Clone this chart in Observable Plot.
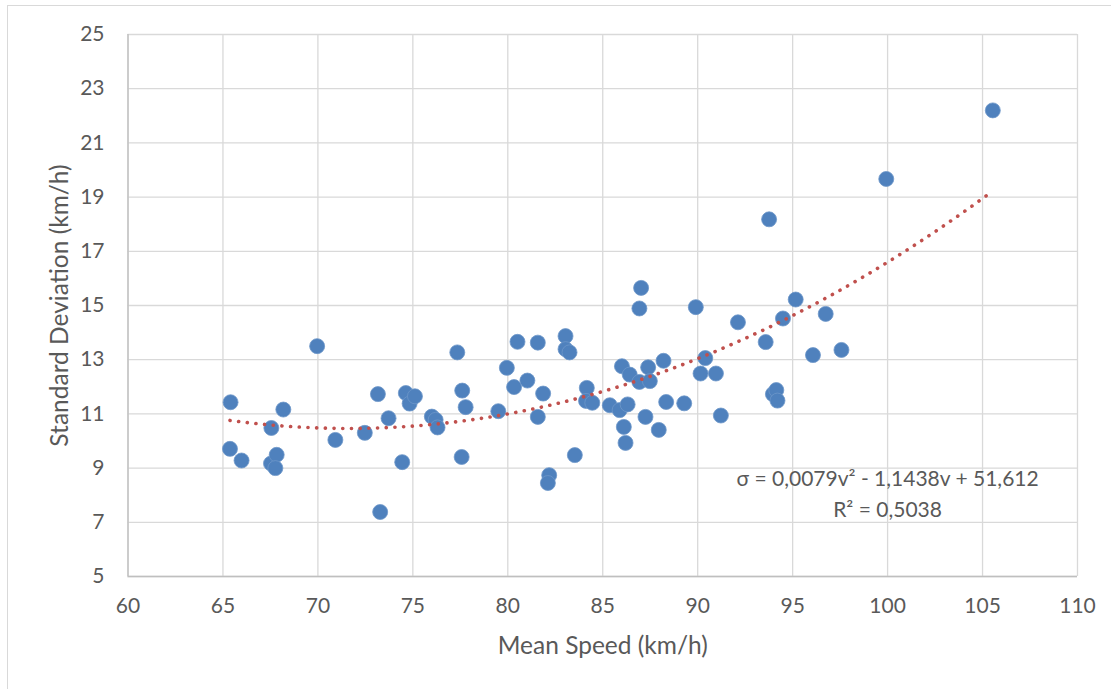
<!DOCTYPE html>
<html>
<head>
<meta charset="utf-8">
<script src="https://cdn.jsdelivr.net/npm/d3@7"></script>
<script src="https://cdn.jsdelivr.net/npm/@observablehq/plot@0.6"></script>
<style>
  html, body { margin: 0; padding: 0; background: #ffffff; overflow: hidden; }
  #wrap { position: relative; width: 1111px; height: 689px; }
  #border { position: absolute; left: 7px; top: 5px; width: 1200px; height: 800px; border: 1.5px solid #d9d9d9; box-sizing: border-box; }
  #chart { position: absolute; left: 0; top: 0; }
</style>
</head>
<body>
<div id="wrap"><div id="border"></div><div id="chart"></div></div>
<script>
// Mean speed (km/h) of each observation
const meanSpeed = [
  65.40, 65.37, 65.98, 67.55, 67.53, 67.83, 67.76, 68.18, 69.96, 70.92,
  72.47, 73.16, 73.28, 73.72, 74.44, 74.63, 74.83, 75.11, 76.00, 76.20,
  76.30, 77.34, 77.60, 77.78, 77.57, 79.50, 79.95, 80.33, 80.51, 81.03,
  81.58, 81.58, 81.86, 82.18, 82.11, 83.04, 83.04, 83.25, 83.53, 84.16,
  84.12, 84.45, 85.37, 85.89, 86.31, 86.01, 86.42, 86.11, 86.20, 86.93,
  87.39, 87.48, 87.25, 87.95, 88.20, 88.34, 87.02, 86.93, 89.90, 92.12,
  93.58, 94.49, 95.16, 96.74, 96.07, 90.40, 90.15, 90.96, 91.22, 89.29,
  93.96, 94.14, 94.20, 99.93, 93.76, 97.57, 105.54
];
// Standard deviation (km/h) of each observation
const stdDev = [
  11.43,  9.71,  9.28, 10.48,  9.17,  9.49,  9.00, 11.16, 13.50, 10.04,
  10.30, 11.73,  7.38, 10.84,  9.22, 11.77, 11.38, 11.65, 10.90, 10.78,
  10.50, 13.27, 11.86, 11.25,  9.41, 11.10, 12.70, 11.99, 13.66, 12.23,
  13.63, 10.89, 11.75,  8.74,  8.45, 13.87, 13.39, 13.27,  9.48, 11.96,
  11.48, 11.41, 11.32, 11.14, 11.35, 12.76, 12.45, 10.52,  9.93, 12.18,
  12.72, 12.21, 10.89, 10.41, 12.96, 11.44, 15.65, 14.89, 14.94, 14.38,
  13.65, 14.52, 15.22, 14.69, 13.17, 13.06, 12.49, 12.49, 10.94, 11.39,
  11.73, 11.88, 11.49, 19.67, 18.18, 13.36, 22.20
];
const xTicks = [60, 65, 70, 75, 80, 85, 90, 95, 100, 105, 110];
const yTicks = [5, 7, 9, 11, 13, 15, 17, 19, 21, 23, 25];
const xTitle = "Mean Speed (km/h)";
const yTitle = "Standard Deviation (km/h)";
const equationLines = ["σ = 0,0079v² - 1,1438v + 51,612", "R² = 0,5038"];

const points = meanSpeed.map((v, i) => ({v, s: stdDev[i]}));

// Second-order polynomial least-squares trendline computed from the data
function quadFit(xs, ys) {
  let S = [0,0,0,0,0], T = [0,0,0];
  xs.forEach((x, i) => {
    let p = 1;
    for (let k = 0; k < 5; k++) { S[k] += p; if (k < 3) T[k] += p * ys[i]; p *= x; }
  });
  const A = [[S[0],S[1],S[2],T[0]],[S[1],S[2],S[3],T[1]],[S[2],S[3],S[4],T[2]]];
  for (let c = 0; c < 3; c++) {
    for (let r = c + 1; r < 3; r++) {
      const f = A[r][c] / A[c][c];
      for (let k = c; k < 4; k++) A[r][k] -= f * A[c][k];
    }
  }
  const coef = [0,0,0];
  for (let r = 2; r >= 0; r--) {
    let s = A[r][3];
    for (let k = r + 1; k < 3; k++) s -= A[r][k] * coef[k];
    coef[r] = s / A[r][r];
  }
  return coef; // c0 + c1 x + c2 x^2
}
const coef = quadFit(meanSpeed, stdDev);
const xmin = d3.min(meanSpeed), xmax = d3.max(meanSpeed);
const trend = d3.range(201).map(i => {
  const v = xmin + (xmax - xmin) * i / 200;
  return {v, s: coef[0] + coef[1] * v + coef[2] * v * v};
});

const grid = "#d9d9d9";
const txt = "#595959";
const font = "Lato, 'Open Sans', sans-serif";

const chart = Plot.plot({
  width: 1111,
  height: 689,
  marginLeft: 127.5,
  marginRight: 34,
  marginTop: 34,
  marginBottom: 113,
  style: {fontFamily: font, color: txt, background: "transparent", overflow: "visible"},
  x: {domain: [60, 110]},
  y: {domain: [5, 25]},
  marks: [
    Plot.gridX(xTicks, {stroke: grid, strokeOpacity: 1, strokeWidth: 1.3}),
    Plot.gridY(yTicks, {stroke: grid, strokeOpacity: 1, strokeWidth: 1.3}),
    Plot.ruleY([5], {stroke: "#bfbfbf", strokeWidth: 1.3}),
    Plot.ruleX([60], {stroke: "#bfbfbf", strokeWidth: 1.3}),
    Plot.axisX(xTicks, {tickSize: 0, tickPadding: 22, fontSize: 21, label: null, fill: txt}),
    Plot.axisY(yTicks, {tickSize: 0, tickPadding: 23.5, fontSize: 21, label: null, fill: txt}),
    Plot.text([xTitle], {frameAnchor: "bottom", lineAnchor: "middle", textAnchor: "middle", dy: 70, fontSize: 24.5, fill: txt}),
    Plot.text([yTitle], {frameAnchor: "left", lineAnchor: "middle", textAnchor: "middle", dx: -68, rotate: -90, fontSize: 24.5, fill: txt}),
    Plot.dot(points, {x: "v", y: "s", r: 7.5, fill: "#4f81bd", stroke: "#6d97c9", strokeWidth: 0.8}),
    Plot.line(trend, {x: "v", y: "s", stroke: "#c0504d", strokeWidth: 3.6, strokeDasharray: "0.1 8.6", strokeLinecap: "round"}),
    Plot.text([equationLines[0]], {x: () => 100, y: () => 8.6, fontSize: 21, fill: txt}),
    Plot.text([equationLines[1]], {x: () => 100, y: () => 7.45, fontSize: 21, fill: txt})
  ]
});
document.getElementById("chart").appendChild(chart);
</script>
</body>
</html>
